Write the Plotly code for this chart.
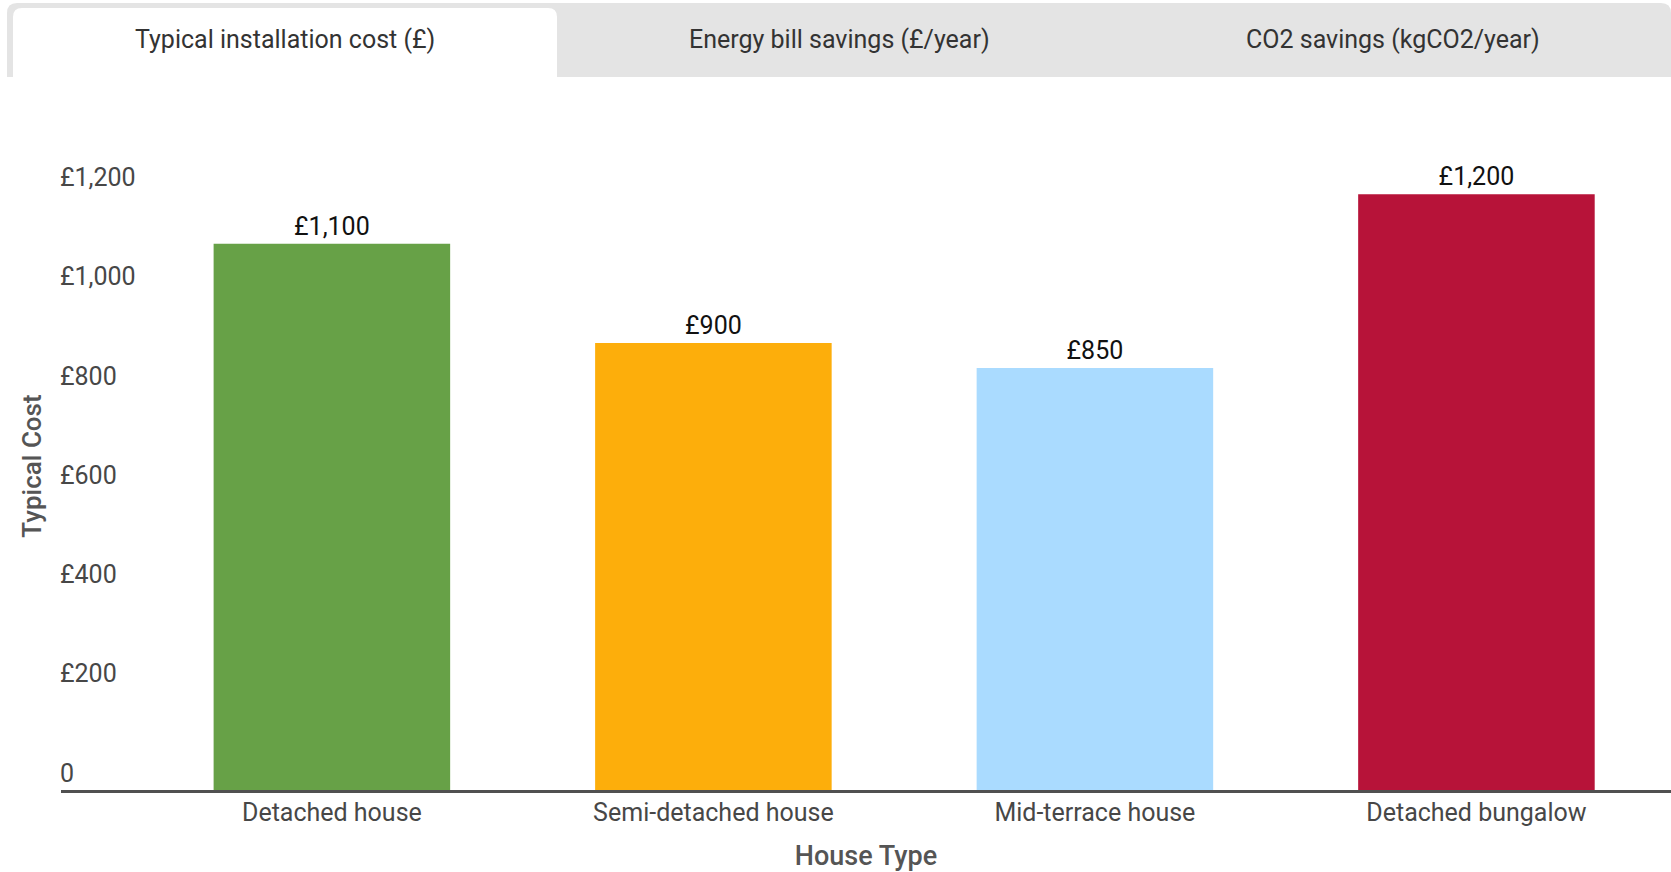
import plotly.graph_objects as go

# ---- data ----
house_types = ["Detached house", "Semi-detached house", "Mid-terrace house", "Detached bungalow"]
typical_cost = [1100, 900, 850, 1200]
bar_colors = ["#67A147", "#FDAE0B", "#AADBFF", "#B71339"]
value_labels = ["£1,100", "£900", "£850", "£1,200"]
y_tick_vals = [0, 200, 400, 600, 800, 1000, 1200]
y_tick_text = ["0", "£200", "£400", "£600", "£800", "£1,000", "£1,200"]
tab_labels = ["Typical installation cost (£)", "Energy bill savings (£/year)", "CO2 savings (kgCO2/year)"]

W, H = 1671, 872
ML, MR, MT, MB = 61, 0, 142, 82
PW, PH = W - ML - MR, H - MT - MB


def px_x(px):
    return (px - ML) / PW


def px_y(py):
    return (H - MB - py) / PH


def rounded_top_rect(x0, y0, x1, y1, r):
    # pixel coords (y down), rounded top corners
    pts = [
        f"M {px_x(x0)} {px_y(y1)}",
        f"L {px_x(x0)} {px_y(y0 + r)}",
        f"Q {px_x(x0)} {px_y(y0)} {px_x(x0 + r)} {px_y(y0)}",
        f"L {px_x(x1 - r)} {px_y(y0)}",
        f"Q {px_x(x1)} {px_y(y0)} {px_x(x1)} {px_y(y0 + r)}",
        f"L {px_x(x1)} {px_y(y1)}",
        "Z",
    ]
    return " ".join(pts)


FONT = "Roboto, 'Noto Sans', sans-serif"

fig = go.Figure(
    go.Bar(
        x=house_types,
        y=typical_cost,
        marker=dict(color=bar_colors, line=dict(width=0)),
        width=0.62,
        text=value_labels,
        textposition="outside",
        textfont=dict(family=FONT, size=25, color="#111111"),
        cliponaxis=False,
        hoverinfo="skip",
    )
)

shapes = [
    dict(type="path", xref="paper", yref="paper",
         path=rounded_top_rect(7, 3, 1671, 77, 10),
         fillcolor="#E4E4E4", line=dict(width=0), layer="below"),
    dict(type="path", xref="paper", yref="paper",
         path=rounded_top_rect(13, 8, 557, 78, 9),
         fillcolor="#FFFFFF", line=dict(width=0), layer="below"),
]

tab_centers = [285, 839, 1393]
annotations = [
    dict(text=t, x=px_x(cx), y=px_y(39), xref="paper", yref="paper",
         showarrow=False, xanchor="center", yanchor="middle",
         font=dict(family=FONT, size=25, color="#333333"))
    for t, cx in zip(tab_labels, tab_centers)
]

fig.update_layout(
    width=W, height=H,
    margin=dict(l=ML, r=MR, t=MT, b=MB, pad=0),
    paper_bgcolor="white", plot_bgcolor="white",
    showlegend=False,
    bargap=0.38,
    shapes=shapes,
    annotations=annotations,
    font=dict(family=FONT),
    xaxis=dict(
        range=[-0.71, 3.51],
        showline=True, linecolor="#505050", linewidth=3,
        showgrid=False, zeroline=False, ticks="", ticklen=0,
        ticklabelstandoff=-2,
        tickfont=dict(family=FONT, size=25, color="#474747"),
        title=dict(text="House Type", standoff=22,
                   font=dict(family=FONT, size=27, color="#555555", weight=500)),
        fixedrange=True,
    ),
    yaxis=dict(
        range=[0, 1305],
        tickvals=y_tick_vals, ticktext=y_tick_text,
        ticklabelposition="inside", ticks="", ticklabelstandoff=-4,
        ticklabelshift=-17,
        showline=False, showgrid=False, zeroline=False,
        tickfont=dict(family=FONT, size=25, color="#474747"),
        title=dict(text="Typical Cost", standoff=10,
                   font=dict(family=FONT, size=26, color="#555555", weight=500)),
        fixedrange=True,
    ),
)

fig.write_html("out.html", config={"displayModeBar": False},
               post_script="document.body.style.margin='0';")
